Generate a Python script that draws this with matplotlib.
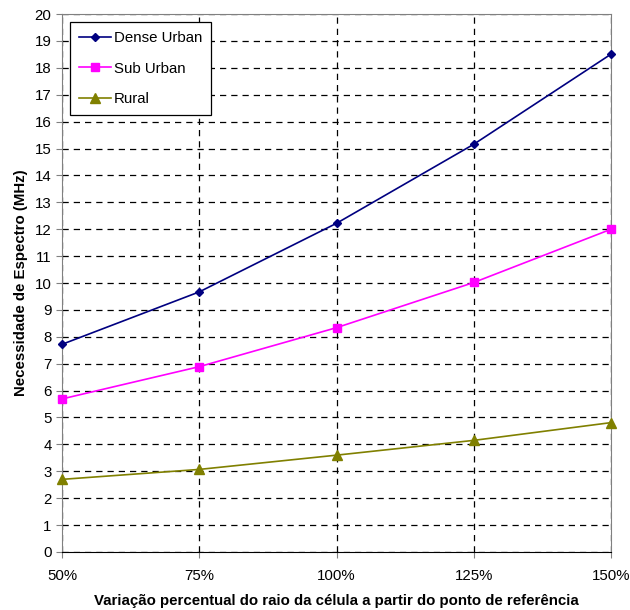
import matplotlib
matplotlib.use('Agg')
import matplotlib.pyplot as plt

plt.rcParams['font.family'] = ['Liberation Sans', 'DejaVu Sans']

# Spectrum need vs. cell radius variation
raio = ['50%', '75%', '100%', '125%', '150%']
dense_urban = [7.72, 9.67, 12.22, 15.16, 18.51]
sub_urban = [5.69, 6.89, 8.34, 10.02, 12.0]
rural = [2.70, 3.07, 3.60, 4.15, 4.81]

fig = plt.figure(figsize=(6.3, 6.1), dpi=100)
ax = fig.add_axes([0.0984, 0.0951, 0.8716, 0.8819])

x = list(range(len(raio)))
ax.plot(x, dense_urban, '-D', color='#000080', markersize=4.5, lw=1.2, label='Dense Urban', clip_on=False, zorder=5)
ax.plot(x, sub_urban, '-s', color='#ff00ff', markersize=6, lw=1.2, label='Sub Urban', clip_on=False, zorder=5)
ax.plot(x, rural, '-^', color='#808000', markersize=6.5, lw=1.2, label='Rural', clip_on=False, zorder=5)

ax.set_xlim(0, 4)
ax.set_ylim(0, 20)
ax.set_xticks(x)
ax.set_xticklabels(raio)
ax.set_yticks(range(0, 21))

ax.grid(True, color='black', linestyle=(0, (5, 4)), linewidth=0.9)
ax.set_axisbelow(True)

for s in ['top', 'right', 'left']:
    ax.spines[s].set_color('#808080')
ax.spines['bottom'].set_color('black')
ax.tick_params(axis='both', labelsize=10.8, direction='out', length=4, color='#808080')
ax.tick_params(axis='x', pad=8)

ax.set_xlabel('Variação percentual do raio da célula a partir do ponto de referência',
              fontsize=10.8, fontweight='bold', labelpad=8)
ax.set_ylabel('Necessidade de Espectro (MHz)', fontsize=10.8, fontweight='bold', labelpad=5)

leg = ax.legend(loc='upper left', bbox_to_anchor=(0.0146, 0.985), fontsize=10.8,
                frameon=True, fancybox=False, edgecolor='black', framealpha=1,
                handlelength=2.1, labelspacing=1.1, borderpad=0.6, handletextpad=0.2,
                borderaxespad=0)
leg.get_frame().set_linewidth(0.9)

fig.savefig('out.png', dpi=100)
